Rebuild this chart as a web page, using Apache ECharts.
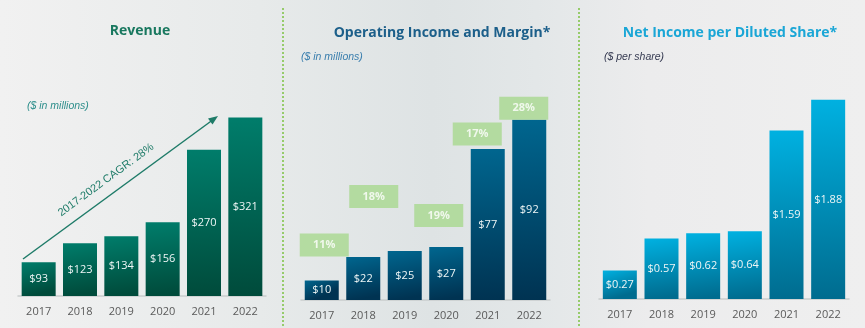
<!DOCTYPE html>
<html>
<head>
<meta charset="utf-8">
<script src="https://cdn.jsdelivr.net/npm/echarts@6/dist/echarts.min.js"></script>
<style>
html,body{margin:0;padding:0;}
#chart{width:865px;height:328px;background:linear-gradient(90deg,#f1f1f1 0%,#e7eaea 30%,#dee3e4 50%,#e3e7e8 62%,#ececed 75%,#efefef 100%);}
</style>
</head>
<body>
<div id="chart"></div>
<script>
// ---- data ----
const years = ['2017', '2018', '2019', '2020', '2021', '2022'];
const revenue = [93, 123, 134, 156, 270, 321];
const opIncome = [10, 22, 25, 27, 77, 92];
const opMargin = [11, 18, null, 19, 17, 28];
const eps = [0.27, 0.57, 0.62, 0.64, 1.59, 1.88];
const cagrText = '2017-2022 CAGR: 28%';

// ---- layout (pixel offsets of margin boxes relative to bar tops) ----
const marginOffsets = [[2.5, -35.5], [10.5, -60.5], [0, 0], [-7.5, -31.5], [-10.5, -15], [-5.5, -11.5]];

const chart = echarts.init(document.getElementById('chart'), null, {renderer: 'canvas'});
const G = echarts.graphic;
function grad(c1, c2) {
  return new G.LinearGradient(0, 0, 0.25, 1, [{offset: 0, color: c1}, {offset: 1, color: c2}]);
}
const labelFont = {fontFamily: 'Open Sans', fontSize: 11, color: '#eef6f6'};
const xAxisCommon = {
  type: 'category', data: years,
  axisTick: {show: false},
  axisLine: {lineStyle: {color: '#c9cdcd', width: 1.5}},
  axisLabel: {color: '#5a5a5a', fontFamily: 'Open Sans', fontSize: 11, margin: 10}
};
const yCommon = {type: 'value', show: false, splitLine: {show: false}};

const option = {
  animation: false,
  title: [
    {text: 'Revenue', left: 135, top: 19, textAlign: 'center',
      textStyle: {fontFamily: 'Open Sans', fontWeight: 'bold', fontSize: 14, color: '#19785f'}},
    {text: 'Operating Income and Margin*', left: 437, top: 21, textAlign: 'center',
      textStyle: {fontFamily: 'Open Sans', fontWeight: 'bold', fontSize: 14, color: '#1c5f8a'}},
    {text: 'Net Income per Diluted Share*', left: 725, top: 21, textAlign: 'center',
      textStyle: {fontFamily: 'Open Sans', fontWeight: 'bold', fontSize: 14, color: '#1aa6d6'}}
  ],
  grid: [
    {left: 18, width: 248, top: 99, height: 197},
    {left: 301, width: 249, top: 104, height: 196},
    {left: 599, width: 250, top: 87, height: 212}
  ],
  xAxis: [
    Object.assign({gridIndex: 0}, xAxisCommon),
    Object.assign({gridIndex: 1}, xAxisCommon),
    Object.assign({gridIndex: 2}, xAxisCommon)
  ],
  yAxis: [
    Object.assign({gridIndex: 0, min: 40, max: 350}, yCommon),
    Object.assign({gridIndex: 1, min: 0, max: 100}, yCommon),
    Object.assign({gridIndex: 2, min: 0, max: 2}, yCommon)
  ],
  series: [
    {type: 'bar', xAxisIndex: 0, yAxisIndex: 0, data: revenue, barWidth: 34,
      itemStyle: {color: grad('#007d6b', '#004b3b')},
      label: Object.assign({show: true, position: 'inside', formatter: p => '$' + p.value}, labelFont)},
    {type: 'bar', xAxisIndex: 1, yAxisIndex: 1, data: opIncome, barWidth: 34,
      itemStyle: {color: grad('#00668f', '#003352')},
      label: Object.assign({show: true, position: 'inside', formatter: p => '$' + p.value}, labelFont)},
    {type: 'scatter', xAxisIndex: 1, yAxisIndex: 1, symbolSize: 0, z: 5,
      data: opIncome.map((v, i) => ({
        value: v,
        label: {show: opMargin[i] != null, offset: marginOffsets[i]}
      })),
      label: {position: 'inside', formatter: p => opMargin[p.dataIndex] + '%',
        backgroundColor: '#a8d88f', width: 49, height: 23, lineHeight: 23,
        align: 'center', verticalAlign: 'middle',
        color: '#ffffff', fontFamily: 'Open Sans', fontWeight: 'bold', fontSize: 11}},
    {type: 'bar', xAxisIndex: 2, yAxisIndex: 2, data: eps, barWidth: 34,
      itemStyle: {color: grad('#00b1e1', '#006c8f')},
      label: Object.assign({show: true, position: 'inside', formatter: p => '$' + p.value.toFixed(2)}, labelFont)}
  ],
  graphic: [
    {type: 'line', shape: {x1: 283, y1: 8, x2: 283, y2: 328}, style: {stroke: '#7cc142', lineWidth: 1.5, lineDash: [2, 2]}},
    {type: 'line', shape: {x1: 579, y1: 8, x2: 579, y2: 328}, style: {stroke: '#7cc142', lineWidth: 1.5, lineDash: [2, 2]}},
    {type: 'text', left: 27, top: 101, style: {text: '($ in millions)', fontFamily: 'Liberation Sans', fontStyle: 'italic', fontSize: 10.5, fill: '#2f8f8c'}},
    {type: 'text', left: 301, top: 52, style: {text: '($ in millions)', fontFamily: 'Liberation Sans', fontStyle: 'italic', fontSize: 10.5, fill: '#3b7fae'}},
    {type: 'text', left: 604, top: 52, style: {text: '($ per share)', fontFamily: 'Liberation Sans', fontStyle: 'italic', fontSize: 10.5, fill: '#363b52'}},
    {type: 'line', shape: {x1: 23, y1: 259, x2: 214, y2: 119}, style: {stroke: '#1e7b68', lineWidth: 1.5}},
    {type: 'polygon', shape: {points: [[218, 116], [208, 118.5], [212.5, 124.5]]}, style: {fill: '#1e7b68'}},
    {type: 'text', x: 106, y: 180, rotation: 0.632,
      style: {text: cagrText, fontFamily: 'Liberation Sans', fontSize: 11, fill: '#1e7b68', align: 'center', verticalAlign: 'middle'}}
  ]
};
chart.setOption(option);
</script>
</body>
</html>
